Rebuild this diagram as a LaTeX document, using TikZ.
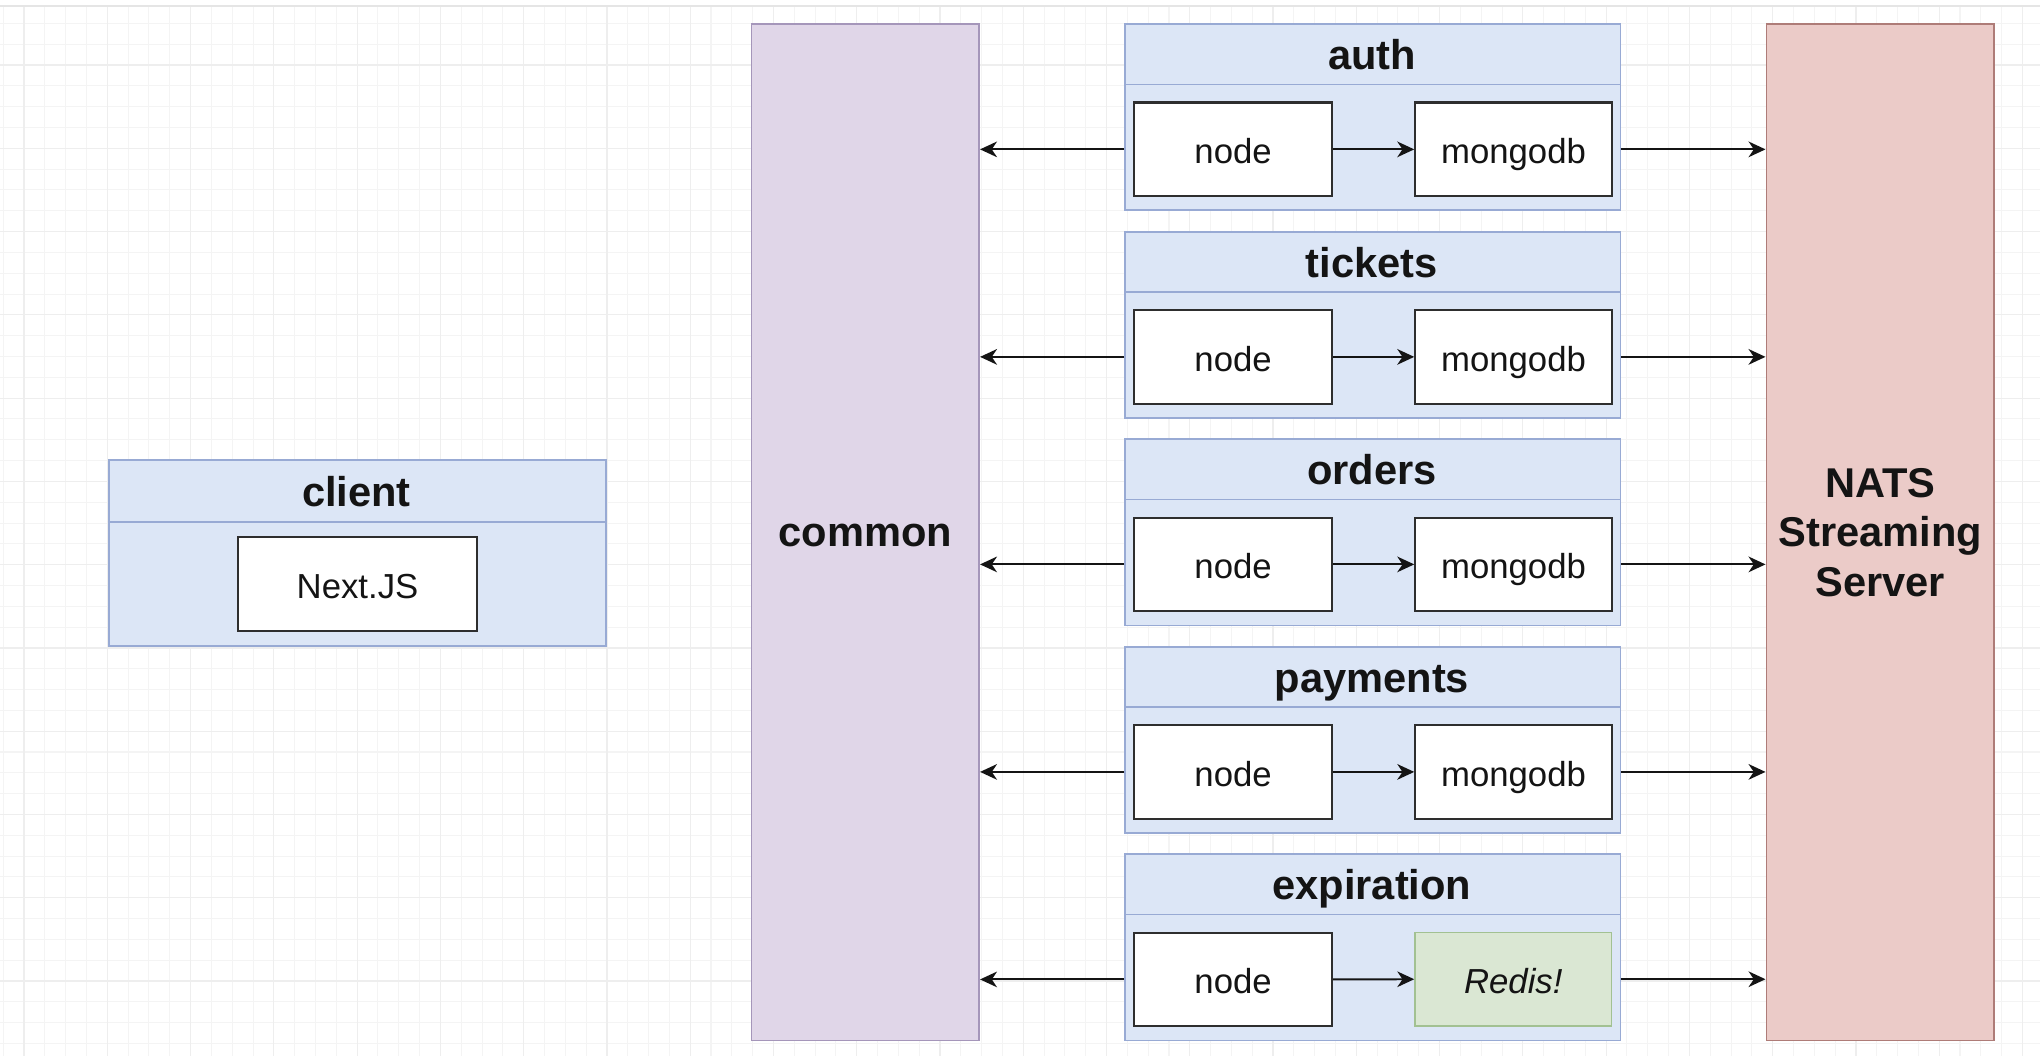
\documentclass[tikz,border=0pt]{standalone}
\usepackage{fontspec}
\setmainfont{Liberation Sans}
\usetikzlibrary{arrows.meta}
\definecolor{gridminor}{HTML}{F4F4F4}
\definecolor{gridmajor}{HTML}{EEEEEE}
\definecolor{bluefill}{HTML}{DCE6F6}
\definecolor{bluestroke}{HTML}{98AAD4}
\definecolor{purplefill}{HTML}{E0D6E8}
\definecolor{purplestroke}{HTML}{A596BA}
\definecolor{redfill}{HTML}{EBCBC8}
\definecolor{redstroke}{HTML}{AE7C78}
\definecolor{greenfill}{HTML}{DAE7D3}
\definecolor{greenstroke}{HTML}{A2C192}
\definecolor{inkc}{HTML}{141414}
\definecolor{boxline}{HTML}{2E2E2E}
\tikzset{
  titlefont/.style={font=\fontsize{32}{38}\selectfont\bfseries, text=inkc},
  titletext/.style={titlefont, text height=25pt, text depth=1pt, inner sep=0pt},
  bodyfont/.style={font=\fontsize{26.7}{32}\selectfont, text=inkc},
  container/.style={draw=bluestroke, fill=bluefill, line width=1.3pt, rectangle, inner sep=0pt,
    anchor=north west, minimum width=381pt, minimum height=143pt},
  headline/.style={draw=bluestroke, line width=1.3pt},
  innerbox/.style={draw=boxline, fill=white, line width=1.6pt, rectangle, inner sep=0pt,
    anchor=north west, minimum height=72pt, bodyfont, text height=23pt, text depth=1pt},
  redisbox/.style={draw=greenstroke, fill=greenfill, line width=1.3pt, rectangle, inner sep=0pt,
    anchor=north west, minimum height=72pt, text=inkc, font=\fontsize{26.7}{32}\selectfont\itshape,
    text height=23pt, text depth=1pt},
  tallbox/.style={rectangle, inner sep=0pt, line width=1.3pt, anchor=north west,
    minimum width=175pt, minimum height=781pt, titlefont, align=center},
  arr/.style={draw=inkc, line width=1.5pt, -{Stealth[length=13pt, width=12pt, inset=4pt]}},
}
\begin{document}
\begin{tikzpicture}[x=1pt, y=-1pt]
\useasboundingbox (0,0) rectangle (1568,812);
\fill[white] (0,0) rectangle (1568,812);
% background grid
\foreach \gx in {2.5,18.5,...,1568} \draw[gridminor, line width=0.8pt] (\gx,5) -- (\gx,812);
\foreach \gy in {18,34,...,812} \draw[gridminor, line width=0.8pt] (0,\gy) -- (1568,\gy);
\foreach \gx in {18.5,82.5,...,1568} \draw[gridmajor, line width=0.9pt] (\gx,5) -- (\gx,812);
\foreach \gy in {50,114,...,812} \draw[gridmajor, line width=0.9pt] (0,\gy) -- (1568,\gy);
\draw[gray!20, line width=1.5pt] (0,4.5) -- (1568,4.5);

% client
\node[container, minimum width=382pt] (client) at (83,353) {};
\draw[headline] (83,401) -- (465,401);
\node[titletext] (clienttitle) at (274,377) {client};
\node[innerbox, minimum width=184pt] (nextjs) at (182,412) {Next.JS};

% common and NATS
\node[tallbox, draw=purplestroke, fill=purplefill, text height=22pt, text depth=0pt] (common) at (577,18) {common};
\node[tallbox, draw=redstroke, fill=redfill] (nats) at (1357,18) {NATS\\Streaming\\Server};

% services
\foreach \n/\dbstyle/\dbtext [count=\i from 0] in
  {auth/innerbox/mongodb, tickets/innerbox/mongodb, orders/innerbox/mongodb,
   payments/innerbox/mongodb, expiration/redisbox/Redis!}{
  \pgfmathsetmacro\tp{18+159.5*\i}
  \node[container] (\n) at (864,\tp) {};
  \draw[headline] (864,{\tp+47}) -- (1245,{\tp+47});
  \node[titletext] (\n-title) at (1054.5,{\tp+23.5}) {\n};
  \node[innerbox, minimum width=152pt] (\n-node) at (871,{\tp+60}) {node};
  \node[\dbstyle, minimum width=151pt] (\n-db) at (1087,{\tp+60}) {\dbtext};
  \draw[arr] (\n.west |- \n-node.center) -- (common.east |- \n-node.center);
  \draw[arr] (\n-node.east) -- (\n-db.west);
  \draw[arr] (\n.east |- \n-db.center) -- (nats.west |- \n-db.center);
}
\end{tikzpicture}
\end{document}
